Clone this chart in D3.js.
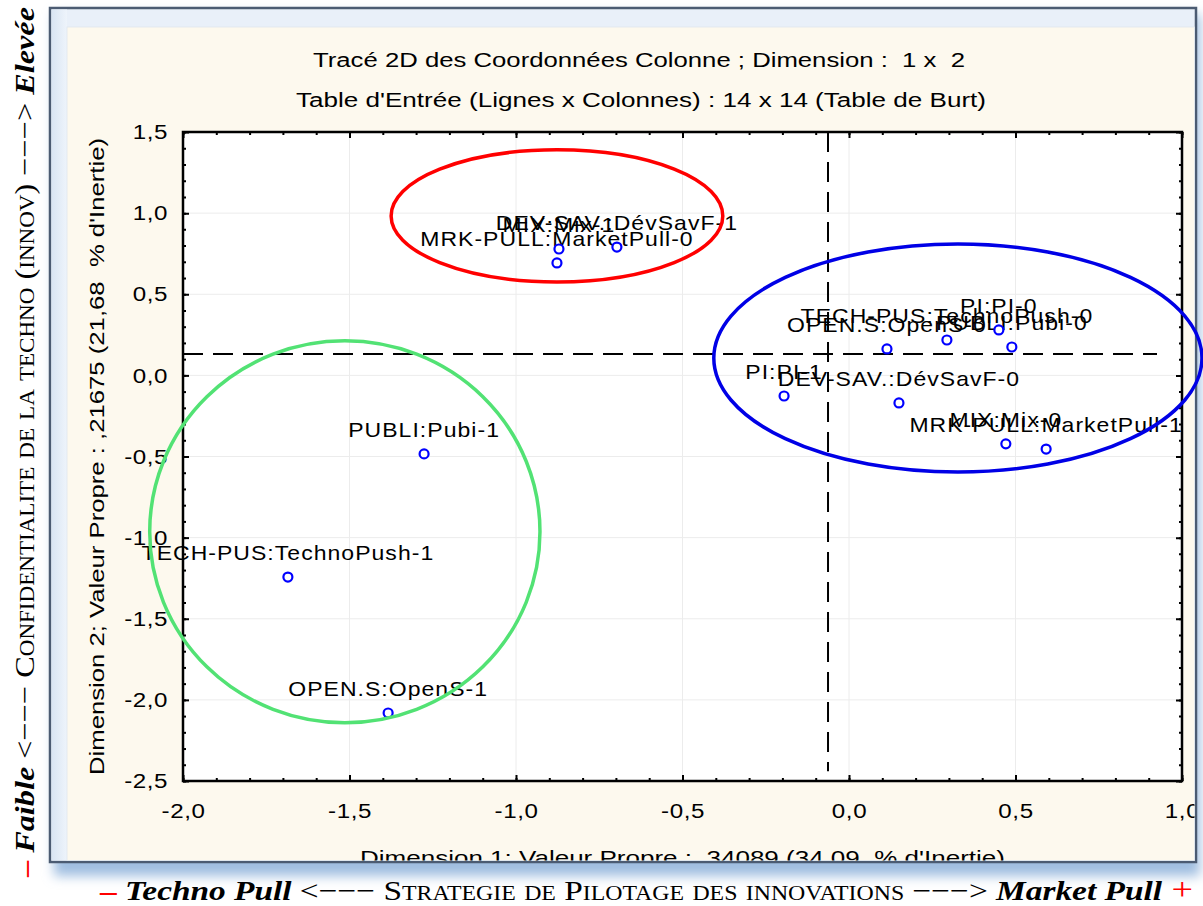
<!DOCTYPE html>
<html>
<head>
<meta charset="utf-8">
<script src="https://cdn.jsdelivr.net/npm/d3@7"></script>
<style>
  html, body { margin: 0; padding: 0; background: #ffffff; }
  svg { display: block; }
  .sans { font-family: "Liberation Sans", Arial, sans-serif; fill: #000; }
  .serif { font-family: "Liberation Serif", "Times New Roman", serif; fill: #000; }
</style>
</head>
<body>
<svg id="chart" width="1203" height="906"></svg>
<script>
// Column coordinates of the MCA (Burt table), dimension 1 x dimension 2
const pointLabels = [
  "MIX:Mix-1", "MRK-PULL:MarketPull-0", "DEV-SAV.:DévSavF-1",
  "OPEN.S:OpenS-0", "TECH-PUS:TechnoPush-0", "PI:PI-0", "PUBLI:Pubi-0",
  "PI:PI-1", "DEV-SAV.:DévSavF-0", "MIX:Mix-0", "MRK-PULL:MarketPull-1",
  "PUBLI:Pubi-1", "TECH-PUS:TechnoPush-1", "OPEN.S:OpenS-1"
];
const dim1 = [-0.871, -0.877, -0.697, 0.114, 0.294, 0.450, 0.489, -0.195, 0.150, 0.471, 0.592, -1.276, -1.685, -1.384];
const dim2 = [0.779, 0.693, 0.791, 0.163, 0.218, 0.280, 0.175, -0.127, -0.170, -0.422, -0.454, -0.484, -1.243, -2.081];

// Axis ranges and ticks
const xDomain = [-2.0, 1.0];
const yDomain = [-2.5, 1.5];
const xMajorTicks = [-2.0, -1.5, -1.0, -0.5, 0.0, 0.5, 1.0];
const yMajorTicks = [-2.5, -2.0, -1.5, -1.0, -0.5, 0.0, 0.5, 1.0, 1.5];
const minorStep = 0.1;

// Reference (centroid) lines
const refX = -0.063;
const refY = 0.132;
const refXSpan = [-2.44, 1.5];   // vertical line extent along dim2
const refYSpan = [-2.0, 0.925];  // horizontal line extent along dim1

// Group outlines: centre (dim1, dim2) and radii in data units
const groupNames = ["red", "blue", "green"];
const groupColors = ["#ff0000", "#0000e6", "#52e274"];
const groupCx = [-0.877, 0.327, -1.514];
const groupCy = [0.983, 0.107, -0.964];
const groupRx = [0.498, 0.733, 0.586];
const groupRy = [0.407, 0.703, 1.177];

// Texts
const title1 = "Tracé 2D des Coordonnées Colonne ; Dimension :  1 x  2";
const title2 = "Table d'Entrée (Lignes x Colonnes) : 14 x 14 (Table de Burt)";
const xTitle = "Dimension 1: Valeur Propre : ,34089 (34,09  % d'Inertie)";
const yTitle = "Dimension 2; Valeur Propre : ,21675 (21,68  % d'Inertie)";

// wide screen-font look of the plotting package
const SX = 1.15;

const svg = d3.select("#chart");
const defs = svg.append("defs");

// ---------- window frame ----------
const shadow = defs.append("filter").attr("id", "shadow")
  .attr("x", "-5%").attr("y", "-5%").attr("width", "110%").attr("height", "110%");
shadow.append("feGaussianBlur").attr("stdDeviation", 6);

const bandGrad = defs.append("linearGradient").attr("id", "band")
  .attr("x1", 0).attr("y1", 0).attr("x2", 1).attr("y2", 0);
bandGrad.append("stop").attr("offset", "0%").attr("stop-color", "#d9e5f3");
bandGrad.append("stop").attr("offset", "100%").attr("stop-color", "#eef4fb");

svg.append("rect").attr("x", 54).attr("y", 14).attr("width", 1146).attr("height", 862)
  .attr("fill", "#9fbde0").attr("filter", "url(#shadow)");
svg.append("rect").attr("x", 50).attr("y", 8).attr("width", 1146).attr("height", 854)
  .attr("fill", "#e9f0f9").attr("stroke", "#4b5b72").attr("stroke-width", 2.5);
svg.append("rect").attr("x", 51.5).attr("y", 9.5).attr("width", 15.5).attr("height", 851)
  .attr("fill", "url(#band)");
svg.append("rect").attr("x", 67).attr("y", 27).attr("width", 1127.5).attr("height", 833.5)
  .attr("fill", "#fdf9ee").attr("stroke", "#dfe6ee").attr("stroke-width", 0.8);

defs.append("clipPath").attr("id", "panelClip")
  .append("rect").attr("x", 67).attr("y", 27).attr("width", 1127.5).attr("height", 833.5);

const panel = svg.append("g").attr("clip-path", "url(#panelClip)");

// ---------- plot area ----------
const plot = { left: 183, right: 1182, top: 132, bottom: 781 };
const x = d3.scaleLinear().domain(xDomain).range([plot.left, plot.right]);
const y = d3.scaleLinear().domain(yDomain).range([plot.bottom, plot.top]);

panel.append("rect")
  .attr("x", plot.left).attr("y", plot.top)
  .attr("width", plot.right - plot.left).attr("height", plot.bottom - plot.top)
  .attr("fill", "#ffffff");

// light grid at major ticks
panel.append("g").selectAll("line").data(xMajorTicks).join("line")
  .attr("x1", d => x(d)).attr("x2", d => x(d))
  .attr("y1", plot.top).attr("y2", plot.bottom)
  .attr("stroke", "#ececec").attr("stroke-width", 1);
panel.append("g").selectAll("line").data(yMajorTicks).join("line")
  .attr("y1", d => y(d)).attr("y2", d => y(d))
  .attr("x1", plot.left).attr("x2", plot.right)
  .attr("stroke", "#ececec").attr("stroke-width", 1);

const fmt = d => d3.format(".1f")(d).replace(".", ",").replace("\u2212", "-");
const minorX = d3.range(Math.round((xDomain[1] - xDomain[0]) / minorStep) + 1)
  .map(i => +(xDomain[0] + i * minorStep).toFixed(2));
const minorY = d3.range(Math.round((yDomain[1] - yDomain[0]) / minorStep) + 1)
  .map(i => +(yDomain[0] + i * minorStep).toFixed(2));

function styleAxis(g) {
  g.attr("font-family", null).attr("font-size", null);
  g.select(".domain").remove();
  g.selectAll(".tick line").attr("stroke", "#000").attr("stroke-width", 2);
  g.selectAll(".tick text")
    .attr("class", "sans")
    .style("font-size", "21px")
    .style("letter-spacing", "0.5px")
    .attr("fill", "#000");
}

// bottom axis with labels
panel.append("g").attr("transform", `translate(0,${plot.bottom})`)
  .call(d3.axisBottom(x).tickValues(xMajorTicks).tickSize(-6).tickPadding(22).tickFormat(fmt))
  .call(styleAxis)
  .call(g => g.selectAll(".tick text").attr("transform", `scale(${SX},1)`));
panel.append("g").attr("transform", `translate(0,${plot.bottom})`)
  .call(d3.axisBottom(x).tickValues(minorX).tickSize(-3).tickFormat(""))
  .call(styleAxis);
// left axis with labels
panel.append("g").attr("transform", `translate(${plot.left},0)`)
  .call(d3.axisLeft(y).tickValues(yMajorTicks).tickSize(-6).tickPadding(13).tickFormat(fmt))
  .call(styleAxis)
  .call(g => g.selectAll(".tick text").attr("transform", `scale(${SX},1)`));
panel.append("g").attr("transform", `translate(${plot.left},0)`)
  .call(d3.axisLeft(y).tickValues(minorY).tickSize(-3).tickFormat(""))
  .call(styleAxis);
// top and right axes: ticks only
panel.append("g").attr("transform", `translate(0,${plot.top})`)
  .call(d3.axisTop(x).tickValues(xMajorTicks).tickSize(-6).tickFormat(""))
  .call(styleAxis);
panel.append("g").attr("transform", `translate(0,${plot.top})`)
  .call(d3.axisTop(x).tickValues(minorX).tickSize(-3).tickFormat(""))
  .call(styleAxis);
panel.append("g").attr("transform", `translate(${plot.right},0)`)
  .call(d3.axisRight(y).tickValues(yMajorTicks).tickSize(-6).tickFormat(""))
  .call(styleAxis);
panel.append("g").attr("transform", `translate(${plot.right},0)`)
  .call(d3.axisRight(y).tickValues(minorY).tickSize(-3).tickFormat(""))
  .call(styleAxis);

// plot border
panel.append("rect")
  .attr("x", plot.left).attr("y", plot.top)
  .attr("width", plot.right - plot.left).attr("height", plot.bottom - plot.top)
  .attr("fill", "none").attr("stroke", "#000").attr("stroke-width", 2.5);

// centroid reference lines
panel.append("line")
  .attr("x1", x(refX)).attr("x2", x(refX))
  .attr("y1", y(refXSpan[1])).attr("y2", y(refXSpan[0]))
  .attr("stroke", "#000").attr("stroke-width", 2).attr("stroke-dasharray", "20,10");
panel.append("line")
  .attr("x1", x(refYSpan[0])).attr("x2", x(refYSpan[1]))
  .attr("y1", y(refY)).attr("y2", y(refY))
  .attr("stroke", "#000").attr("stroke-width", 2).attr("stroke-dasharray", "20,10");

// titles
panel.append("text").attr("class", "sans")
  .attr("x", 639).attr("y", 67).attr("text-anchor", "middle")
  .attr("textLength", 652).attr("lengthAdjust", "spacingAndGlyphs")
  .style("font-size", "20px").style("white-space", "pre")
  .text(title1);
panel.append("text").attr("class", "sans")
  .attr("x", 641).attr("y", 107).attr("text-anchor", "middle")
  .attr("textLength", 690).attr("lengthAdjust", "spacingAndGlyphs")
  .style("font-size", "20px").style("white-space", "pre")
  .text(title2);

// axis titles
panel.append("text").attr("class", "sans")
  .attr("x", (plot.left + plot.right) / 2).attr("y", 865).attr("text-anchor", "middle")
  .attr("textLength", 645).attr("lengthAdjust", "spacingAndGlyphs")
  .style("font-size", "21px").style("white-space", "pre")
  .text(xTitle);
panel.append("text").attr("class", "sans")
  .attr("transform", `translate(104,${(plot.top + plot.bottom) / 2}) rotate(-90)`)
  .attr("text-anchor", "middle")
  .attr("textLength", 637).attr("lengthAdjust", "spacingAndGlyphs")
  .style("font-size", "21px").style("white-space", "pre")
  .text(yTitle);

// ---------- points and labels ----------
const pts = pointLabels.map((name, i) => ({ name, d1: dim1[i], d2: dim2[i] }));

svg.append("g").selectAll("g").data(pts).join("g")
  .attr("transform", d => `translate(${x(d.d1)},${y(d.d2) - 17}) scale(${SX},1)`)
  .append("text")
  .attr("class", "sans")
  .attr("text-anchor", "middle")
  .style("font-size", "20px").style("letter-spacing", "0.9px")
  .text(d => d.name);

svg.append("g").selectAll("circle").data(pts).join("circle")
  .attr("cx", d => x(d.d1)).attr("cy", d => y(d.d2)).attr("r", 4.5)
  .attr("fill", "#ffffff").attr("stroke", "#0000ff").attr("stroke-width", 2.2);

// ---------- group outlines ----------
svg.append("g").selectAll("ellipse").data(groupNames).join("ellipse")
  .attr("cx", (d, i) => x(groupCx[i]))
  .attr("cy", (d, i) => y(groupCy[i]))
  .attr("rx", (d, i) => x(groupCx[i] + groupRx[i]) - x(groupCx[i]))
  .attr("ry", (d, i) => y(groupCy[i]) - y(groupCy[i] + groupRy[i]))
  .attr("fill", "none")
  .attr("stroke", (d, i) => groupColors[i])
  .attr("stroke-width", 3.5);

// ---------- outer interpretation captions ----------
const bottomCap = svg.append("text").attr("class", "serif")
  .attr("x", 100).attr("y", 900)
  .attr("textLength", 1093).attr("lengthAdjust", "spacingAndGlyphs")
  .style("font-size", "28px").style("white-space", "pre");
bottomCap.append("tspan").attr("fill", "#ff0000").style("font-weight", "bold").text("\u2013 ");
bottomCap.append("tspan").style("font-weight", "bold").style("font-style", "italic").text("Techno Pull");
bottomCap.append("tspan").style("font-variant", "small-caps")
  .text(" <\u2212\u2212\u2212 Strategie de Pilotage des innovations \u2212\u2212\u2212> ");
bottomCap.append("tspan").style("font-weight", "bold").style("font-style", "italic").text("Market Pull");
bottomCap.append("tspan").attr("fill", "#ff0000").style("font-size", "32px").text(" +");

const leftCap = svg.append("text").attr("class", "serif")
  .attr("transform", "translate(34,877) rotate(-90)")
  .attr("textLength", 870).attr("lengthAdjust", "spacingAndGlyphs")
  .style("font-size", "28px").style("white-space", "pre");
leftCap.append("tspan").attr("fill", "#ff0000").style("font-weight", "bold").text("\u2013 ");
leftCap.append("tspan").style("font-weight", "bold").style("font-style", "italic").text("Faible");
leftCap.append("tspan").style("font-variant", "small-caps")
  .text(" <\u2212\u2212\u2212 Confidentialite de la techno (innov) \u2212\u2212\u2212> ");
leftCap.append("tspan").style("font-weight", "bold").style("font-style", "italic").text("Elevée");
</script>
</body>
</html>
